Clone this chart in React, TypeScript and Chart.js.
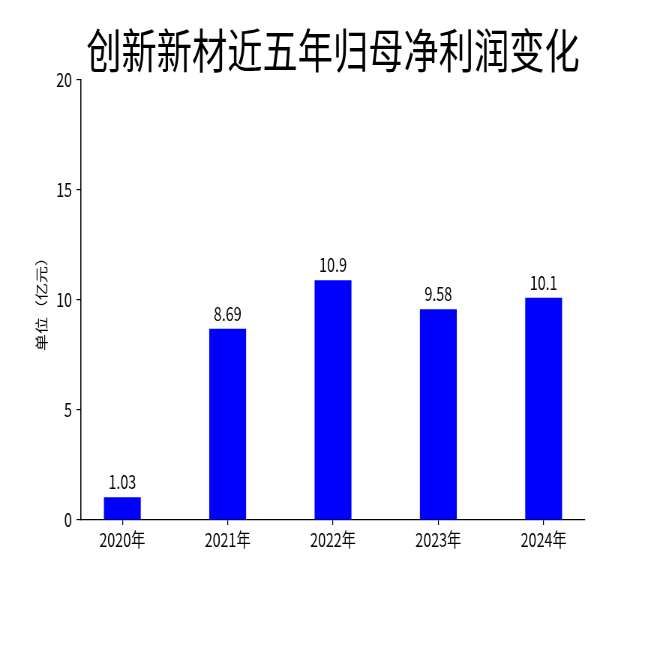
import React, { useEffect, useRef } from "react";
import { Chart, registerables } from "chart.js";

Chart.register(...registerables);

const TITLE = "创新新材近五年归母净利润变化";
const Y_TITLE = "单位（亿元）";
const years = ["2020年", "2021年", "2022年", "2023年", "2024年"];
const profits = [1.03, 8.69, 10.9, 9.58, 10.1];
const yTicks = [0, 5, 10, 15, 20];

const SQUEEZE = 0.75;
const W = Math.round(650 / SQUEEZE);
const H = 650;
const FONT = "'Noto Sans CJK SC', 'Noto Sans', sans-serif";
const SMALL = 19;

const valueLabels = {
  id: "valueLabels",
  afterDatasetsDraw(chart: any) {
    const ctx = chart.ctx;
    const meta = chart.getDatasetMeta(0);
    ctx.save();
    ctx.font = `${SMALL}px ${FONT}`;
    ctx.fillStyle = "#000";
    ctx.textAlign = "center";
    ctx.textBaseline = "alphabetic";
    meta.data.forEach((bar: any, i: number) => {
      ctx.fillText(String(profits[i]), bar.x, bar.y - 8);
    });
    ctx.restore();
  },
};

export default function App() {
  const ref = useRef<HTMLCanvasElement | null>(null);
  useEffect(() => {
    if (!ref.current) return;
    const chart = new Chart(ref.current, {
      type: "bar",
      data: {
        datasets: [
          {
            data: profits.map((v, i) => ({ x: i, y: v })),
            backgroundColor: "#0000ff",
            borderWidth: 0,
            categoryPercentage: 1,
            barPercentage: 0.35,
          },
        ],
      },
      options: {
        responsive: false,
        animation: false,
        devicePixelRatio: 1,
        layout: { padding: { left: 0, right: W - 780, top: 0, bottom: 0 } },
        plugins: {
          legend: { display: false },
          tooltip: { enabled: false },
          title: {
            display: true,
            text: TITLE,
            fullSize: false,
            color: "#000",
            font: { family: FONT, size: 47, weight: "normal", lineHeight: 1.2 },
            padding: { top: 22, bottom: 80 - 22 - 47 * 1.2 },
          },
        },
        scales: {
          x: {
            type: "linear",
            offset: false,
            min: -0.3925,
            max: 4.3925,
            afterBuildTicks: (scale: any) => {
              scale.ticks = years.map((_, i) => ({ value: i }));
            },
            afterFit: (scale: any) => {
              scale.height = H - 520;
            },
            grid: {
              display: true,
              offset: false,
              drawOnChartArea: false,
              drawTicks: true,
              tickLength: 5,
              color: "#000",
              lineWidth: 1.2,
            },
            border: { display: true, color: "#000", width: 1.2 },
            ticks: {
              autoSkip: false,
              maxRotation: 0,
              padding: 3,
              color: "#000",
              font: { family: FONT, size: SMALL },
              callback: (v: any) => years[Math.round(Number(v))] ?? "",
            },
          },
          y: {
            min: 0,
            max: 20,
            afterBuildTicks: (scale: any) => {
              scale.ticks = yTicks.map((v) => ({ value: v }));
            },
            afterFit: (scale: any) => {
              scale.width = 108;
            },
            grid: {
              display: true,
              drawOnChartArea: false,
              drawTicks: true,
              tickLength: 6,
              color: "#000",
              lineWidth: 1.2,
            },
            border: { display: true, color: "#000", width: 1.5 },
            ticks: {
              padding: 6,
              color: "#000",
              font: { family: FONT, size: SMALL },
            },
            title: {
              display: true,
              text: Y_TITLE,
              color: "#000",
              font: { family: FONT, size: 17, lineHeight: 1.2 },
              padding: { top: 45, bottom: 0 },
            },
          },
        },
      },
      plugins: [valueLabels],
    });
    return () => chart.destroy();
  }, []);

  return (
    <div
      style={{
        position: "fixed",
        left: 0,
        top: 0,
        width: 650,
        height: 650,
        overflow: "hidden",
        background: "#fff",
      }}
    >
      <canvas
        ref={ref}
        width={W}
        height={H}
        style={{
          display: "block",
          width: W,
          height: H,
          transform: `scaleX(${SQUEEZE})`,
          transformOrigin: "0 0",
        }}
      />
    </div>
  );
}
